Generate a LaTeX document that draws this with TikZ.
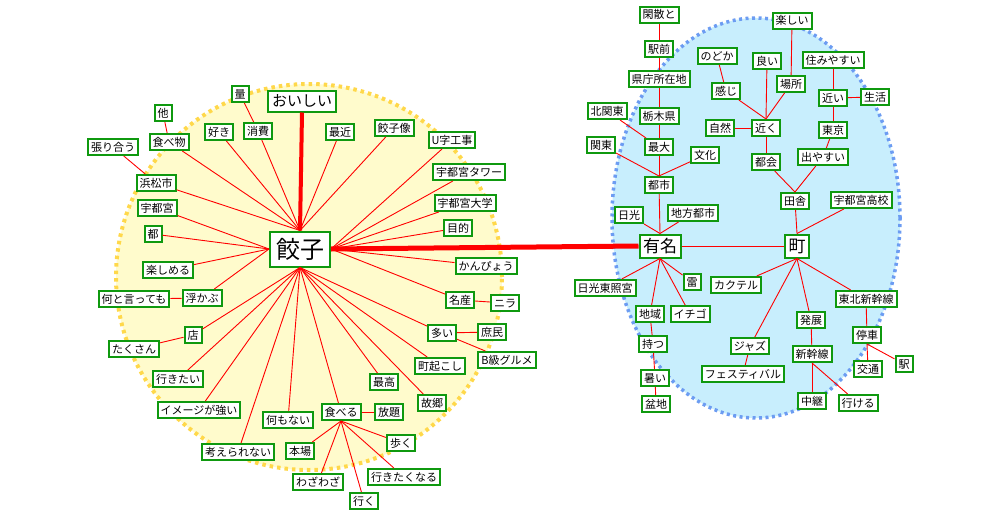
\documentclass[tikz,border=0pt]{standalone}
\usepackage{fontspec}
\setmainfont{Noto Sans CJK JP}
\usetikzlibrary{positioning}
\definecolor{nodegreen}{HTML}{0F990F}
\definecolor{linkred}{HTML}{FF0000}
\definecolor{yellowfill}{HTML}{FFFBCC}
\definecolor{yellowdot}{HTML}{FFD84A}
\definecolor{bluefill}{HTML}{C8EEFD}
\definecolor{bluedot}{HTML}{6C9CF2}

\begin{document}
\begin{tikzpicture}[
  x=1pt, y=-1pt,
  word/.style={
    draw=nodegreen, line width=2pt, fill=white,
    font=\fontsize{11}{11}\selectfont,
    inner xsep=3pt, inner ysep=2.5pt,
    text height=9.5pt, text depth=1.5pt
  },
  midword/.style={word, font=\fontsize{15}{15}\selectfont,
    inner xsep=4pt, inner ysep=3pt, text height=13pt, text depth=2pt},
  hubword/.style={word, font=\fontsize{17}{17}\selectfont,
    inner xsep=3.5pt, inner ysep=3pt, text height=15pt, text depth=2pt},
  topword/.style={word, font=\fontsize{24}{24}\selectfont,
    inner xsep=6pt, inner ysep=5.5pt, text height=21pt, text depth=3pt},
  link/.style={draw=linkred, line width=0.9pt},
  boldlink/.style={draw=linkred, line width=4pt}
]

\useasboundingbox[fill=white] (0,0) rectangle (1000,519);

% cluster backgrounds
\draw[fill=yellowfill, draw=yellowdot, line width=4pt, dash pattern=on 3.5pt off 4pt]
  (309,277) circle[radius=193pt];
\draw[fill=bluefill, draw=bluedot, line width=3.5pt, dash pattern=on 3pt off 3.5pt]
  (756,218) ellipse[x radius=144pt, y radius=200pt];

% left cluster
\node[topword] (gyoza) at (300,249) {餃子};
\node[midword] (oishii) at (302,101) {おいしい};
\node[word] (ryo) at (240,94) {量};
\node[word] (hoka) at (163,113) {他};
\node[word] (suki) at (219,132) {好き};
\node[word] (shohi) at (258,131) {消費};
\node[word] (tabemono) at (169,142) {食べ物};
\node[word] (hariau) at (113,147) {張り合う};
\node[word] (hamamatsu) at (156,183) {浜松市};
\node[word] (utsunomiya) at (157,208) {宇都宮};
\node[word] (miyako) at (153,234) {都};
\node[word] (saikin) at (340,132) {最近};
\node[word] (gyozazo) at (394,128) {餃子像};
\node[word] (ujikoji) at (452,140) {U字工事};
\node[word] (tower) at (469,172) {宇都宮タワー};
\node[word] (daigaku) at (465,203) {宇都宮大学};
\node[word] (mokuteki) at (458,228) {目的};
\node[word] (kanpyo) at (486,266) {かんぴょう};
\node[word] (tanoshimeru) at (168,270) {楽しめる};
\node[word] (nantoittemo) at (134,299) {何と言っても};
\node[word] (ukabu) at (202,298) {浮かぶ};
\node[word] (mise) at (193,335) {店};
\node[word] (takusan) at (134,349) {たくさん};
\node[word] (ikitai) at (178,379) {行きたい};
\node[word] (image) at (199,410) {イメージが強い};
\node[word] (nanimonai) at (288,420) {何もない};
\node[word] (kangae) at (238,452) {考えられない};
\node[word] (honba) at (300,451) {本場};
\node[word] (wazawaza) at (318,482) {わざわざ};
\node[word] (meisan) at (460,300) {名産};
\node[word] (nira) at (505,303) {ニラ};
\node[word] (oi) at (442,333) {多い};
\node[word] (shomin) at (492,332) {庶民};
\node[word] (bkyu) at (507,360) {B級グルメ};
\node[word] (machiokoshi) at (440,366) {町起こし};
\node[word] (saiko) at (384,382) {最高};
\node[word] (kokyo) at (432,403) {故郷};
\node[word] (taberu) at (341,412) {食べる};
\node[word] (hodai) at (389,412) {放題};
\node[word] (aruku) at (401,443) {歩く};
\node[word] (ikitakunaru) at (404,477) {行きたくなる};
\node[word] (iku) at (364,501) {行く};

% right cluster
\node[hubword] (yumei) at (660,246) {有名};
\node[hubword] (machi) at (797,246) {町};
\node[word] (kansan) at (659,15) {閑散と};
\node[word] (ekimae) at (659,49) {駅前};
\node[word] (kencho) at (659,79) {県庁所在地};
\node[word] (kitakanto) at (607,111) {北関東};
\node[word] (tochigi) at (659,116) {栃木県};
\node[word] (kanto) at (601,145) {関東};
\node[word] (saidai) at (659,147) {最大};
\node[word] (bunka) at (705,155) {文化};
\node[word] (toshi) at (659,185) {都市};
\node[word] (nikko) at (629,215) {日光};
\node[word] (chiho) at (693,213) {地方都市};
\node[word] (nodoka) at (717,56) {のどか};
\node[word] (kanji) at (726,91) {感じ};
\node[word] (yoi) at (767,61) {良い};
\node[word] (shizen) at (720,128) {自然};
\node[word] (chikaku) at (766,128) {近く};
\node[word] (tokai) at (766,162) {都会};
\node[word] (tanoshii) at (792,21) {楽しい};
\node[word] (basho) at (791,84) {場所};
\node[word] (sumiyasui) at (833,60) {住みやすい};
\node[word] (chikai) at (833,98) {近い};
\node[word] (seikatsu) at (875,97) {生活};
\node[word] (tokyo) at (833,130) {東京};
\node[word] (deyasui) at (823,157) {出やすい};
\node[word] (inaka) at (795,201) {田舎};
\node[word] (koko) at (861,200) {宇都宮高校};
\node[word] (toshogu) at (605,288) {日光東照宮};
\node[word] (kaminari) at (692,282) {雷};
\node[word] (chiiki) at (650,314) {地域};
\node[word] (ichigo) at (690,314) {イチゴ};
\node[word] (motsu) at (653,344) {持つ};
\node[word] (atsui) at (655,378) {暑い};
\node[word] (bonchi) at (656,404) {盆地};
\node[word] (cocktail) at (736,285) {カクテル};
\node[word] (jazz) at (750,346) {ジャズ};
\node[word] (festival) at (743,374) {フェスティバル};
\node[word] (tohoku) at (866,299) {東北新幹線};
\node[word] (hatten) at (811,320) {発展};
\node[word] (teisha) at (867,335) {停車};
\node[word] (shinkansen) at (812,354) {新幹線};
\node[word] (kotsu) at (868,369) {交通};
\node[word] (eki) at (904,364) {駅};
\node[word] (chukei) at (812,401) {中継};
\node[word] (ikeru) at (858,403) {行ける};

% links around 餃子
\draw[boldlink] (gyoza.north) -- (oishii.south);
\draw[boldlink, line width=5pt] (gyoza.east) -- (yumei.west);
\foreach \n in {suki, shohi, tabemono, hamamatsu, saikin, gyozazo}
  \draw[link] (gyoza.north) -- (\n);
\foreach \n in {utsunomiya, miyako, tanoshimeru, ukabu}
  \draw[link] (gyoza.west) -- (\n);
\foreach \n in {ujikoji, tower, daigaku, mokuteki, kanpyo, meisan}
  \draw[link] (gyoza.east) -- (\n);
\foreach \n in {mise, ikitai, image, kangae, nanimonai, taberu, saiko, kokyo, machiokoshi, oi}
  \draw[link] (gyoza.south) -- (\n);
\draw[link] (hariau) -- (hamamatsu);
\draw[link] (hoka) -- (tabemono);
\draw[link] (ryo) -- (shohi);
\draw[link] (nantoittemo) -- (ukabu);
\draw[link] (takusan) -- (mise);
\draw[link] (meisan) -- (nira);
\draw[link] (oi) -- (shomin);
\draw[link] (oi) -- (bkyu);
\draw[link] (taberu) -- (hodai);
\foreach \n in {honba, wazawaza, iku, ikitakunaru, aruku}
  \draw[link] (taberu.south) -- (\n);

% links around 有名 and 町
\draw[link] (yumei.east) -- (machi.west);
\foreach \n in {toshi, nikko, chiho}
  \draw[link] (yumei.north) -- (\n);
\foreach \n in {toshogu, kaminari, chiiki, ichigo}
  \draw[link] (yumei.south) -- (\n);
\draw[link] (kansan) -- (ekimae);
\draw[link] (ekimae) -- (kencho);
\draw[link] (kencho) -- (tochigi);
\draw[link] (tochigi) -- (saidai);
\draw[link] (kitakanto) -- (saidai);
\foreach \n in {saidai, kanto, bunka}
  \draw[link] (toshi.north) -- (\n);
\draw[link] (chiiki) -- (motsu);
\draw[link] (motsu) -- (atsui);
\draw[link] (atsui) -- (bonchi);
\draw[link] (nodoka) -- (kanji);
\foreach \n in {kanji, yoi, basho}
  \draw[link] (chikaku.north) -- (\n);
\draw[link] (tanoshii) -- (basho);
\draw[link] (shizen) -- (chikaku);
\draw[link] (chikaku) -- (tokai);
\draw[link] (sumiyasui) -- (chikai);
\draw[link] (chikai) -- (seikatsu);
\draw[link] (chikai) -- (tokyo);
\draw[link] (tokyo) -- (deyasui);
\foreach \n in {tokai, deyasui}
  \draw[link] (inaka.north) -- (\n);
\foreach \n in {inaka, koko}
  \draw[link] (machi.north) -- (\n);
\foreach \n in {cocktail, jazz, hatten, tohoku}
  \draw[link] (machi.south) -- (\n);
\draw[link] (jazz) -- (festival);
\draw[link] (hatten) -- (shinkansen);
\draw[link] (shinkansen) -- (chukei);
\draw[link] (shinkansen.south) -- (ikeru);
\draw[link] (tohoku) -- (teisha);
\draw[link] (teisha.south) -- (kotsu);
\draw[link] (teisha.south) -- (eki);

\end{tikzpicture}
\end{document}
